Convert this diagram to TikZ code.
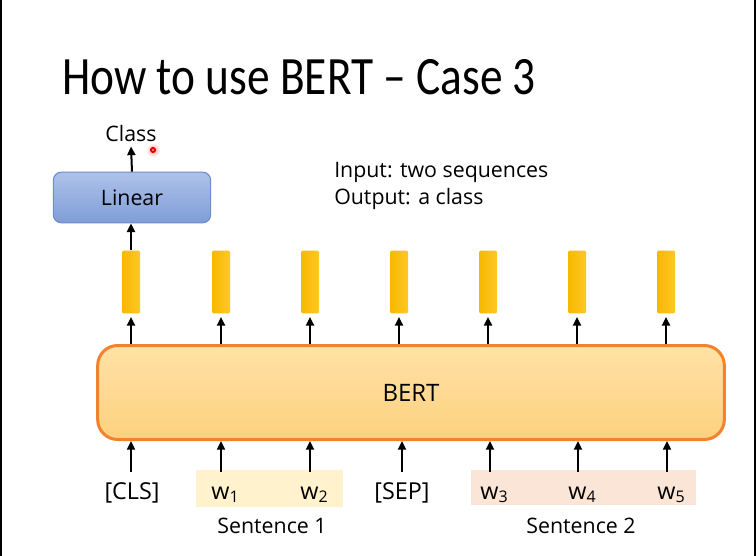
\documentclass[tikz,border=0pt]{standalone}
\usepackage{fontspec}
\setmainfont{Open Sans}
\newfontfamily\titlefont{Carlito}
\usetikzlibrary{arrows.meta}
\definecolor{bertfillA}{HTML}{FFE2A6}
\definecolor{bertfillB}{HTML}{FDD07E}
\definecolor{bertline}{HTML}{F2822C}
\definecolor{barA}{HTML}{F7B800}
\definecolor{barB}{HTML}{FFC826}
\definecolor{linA}{HTML}{AEC2EA}
\definecolor{linB}{HTML}{7F9DD6}
\definecolor{linline}{HTML}{6C8CCB}
\definecolor{sentA}{HTML}{FFF2CC}
\definecolor{sentB}{HTML}{FBE5D6}
\newcommand{\subd}[1]{\raisebox{-0.3ex}{\fontsize{12}{13}\selectfont #1}}
\begin{document}
\begin{tikzpicture}[x=0.75pt,y=-0.75pt,
  txt/.style={font=\fontsize{16}{19}\selectfont, inner sep=0pt},
  arr/.style={line width=1.5pt, -{Triangle[length=6.5pt,width=6pt]}},
  bar/.style={draw=none, left color=barA, right color=barB, minimum width=13.5pt, minimum height=47pt, inner sep=0pt, rounded corners=1pt},
  token/.style={font=\fontsize{17.5}{20}\selectfont, anchor=base, text height=14pt, text depth=3pt, inner ysep=6pt, inner xsep=2pt},
  bertbox/.style={draw=bertline, line width=2.25pt, top color=bertfillA, bottom color=bertfillB, rounded corners=15pt, minimum width=470pt, minimum height=70.5pt, font=\fontsize{18}{22}\selectfont},
  linbox/.style={draw=linline, line width=0.8pt, top color=linA, bottom color=linB, rounded corners=6pt, minimum width=118pt, minimum height=38pt, font=\fontsize{16}{19}\selectfont}
]
\useasboundingbox (0,0) rectangle (756,556);
\fill[white] (0,0) rectangle (756,556);
\fill[black] (0,0) rectangle (2,556);
\fill[black] (754,0) rectangle (756,556);

% title
\node[anchor=base west, inner sep=0pt, font=\titlefont\fontsize{40.5}{48}\selectfont] (title) at (62,95) {\scalebox{0.84}[1]{How to use BERT \textendash{} Case 3}};

% info text
\node[txt, anchor=base west] (inp) at (334,177) {Input: two sequences};
\node[txt, anchor=base west] (outp) at (334,204) {Output: a class};

% linear + class
\node[linbox] (lin) at (132,197.5) {Linear};
\node[txt, anchor=base, inner sep=3pt] (cls_out) at (131,142) {Class};

% red pointer
\shade[inner color=red!35, outer color=white] (153,150) circle (5.5pt);
\fill[red!90!black] (153,150) circle (2.3pt);
\fill[red!40] (153,150) circle (0.9pt);

% BERT
\node[bertbox] (bert) at (411,392.5) {BERT};

% sentence highlights
\fill[sentA] (196,470) rectangle (343,507);
\fill[sentB] (471,470) rectangle (696,505);

% bars
\node[bar] (b1) at (131,282) {};
\node[bar] (b2) at (221,282) {};
\node[bar] (b3) at (310,282) {};
\node[bar] (b4) at (399,282) {};
\node[bar] (b5) at (488,282) {};
\node[bar] (b6) at (577,282) {};
\node[bar] (b7) at (666,282) {};

% tokens
\node[token] (t1) at (132,499) {[CLS]};
\node[token] (t2) at (225,499) {w\subd{1}};
\node[token] (t3) at (314,499) {w\subd{2}};
\node[token] (t4) at (402,499) {[SEP]};
\node[token] (t5) at (494,499) {w\subd{3}};
\node[token] (t6) at (582,499) {w\subd{4}};
\node[token] (t7) at (671,499) {w\subd{5}};

\node[txt, anchor=base] (s1) at (272,533) {Sentence 1};
\node[txt, anchor=base] (s2) at (581,533) {Sentence 2};

% arrows
\draw[arr] (lin.north) -- (cls_out.south);
\draw[arr] (b1.north) -- (b1.north |- lin.south);
\foreach \i in {1,...,7}{
  \draw[arr, shorten >=2.5pt] (b\i.south |- bert.north) -- (b\i.south);
}
\foreach \i/\xx in {1/131,2/221,3/310,4/402,5/490,6/578,7/667}{
  \draw[arr] (\xx,0 |- t\i.north) -- (\xx,0 |- bert.south);
}
\end{tikzpicture}
\end{document}
